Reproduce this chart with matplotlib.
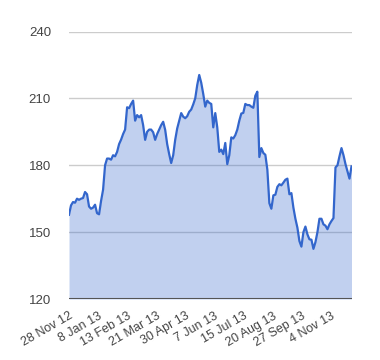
import numpy as np
import matplotlib
matplotlib.use("Agg")
import matplotlib.pyplot as plt

# values, one every ~2 trading days
price = [
    157.8, 162.0, 163.5, 163.2, 165.0, 164.5, 165.0, 165.3, 168.0, 167.0,
    161.5, 160.5, 161.0, 162.3, 158.5, 158.0, 164.0, 169.0, 180.0, 183.0,
    183.0, 182.5, 184.5, 184.0, 186.0, 189.5, 191.5, 194.0, 196.0, 206.0,
    205.6, 207.5, 209.0, 200.0, 202.5, 201.5, 202.5, 198.0, 191.4, 195.0,
    196.0, 196.0, 194.8, 191.4, 194.0, 196.0, 198.0, 199.5, 195.9, 189.5,
    185.0, 181.0, 184.5, 191.4, 196.5, 200.0, 203.4, 201.8, 201.1, 202.0,
    204.0, 205.0, 207.3, 210.0, 216.0, 220.5, 217.0, 212.0, 206.3, 209.0,
    208.0, 207.5, 197.0, 203.4, 197.0, 186.0, 187.0, 185.0, 190.0, 180.5,
    184.5, 192.5, 192.0, 193.5, 196.0, 200.0, 203.2, 203.5, 207.5, 207.0,
    207.0, 206.3, 205.8, 211.2, 213.0, 183.7, 187.7, 185.5, 184.7, 178.0,
    163.0, 160.5, 166.5, 166.8, 170.3, 171.5, 171.0, 172.2, 173.5, 174.0,
    167.0, 167.5, 161.0, 156.0, 152.0, 146.0, 143.5, 150.0, 152.5, 149.0,
    146.8, 146.6, 142.5, 145.5, 150.0, 156.0, 156.0, 153.5, 152.9, 151.3,
    153.5, 155.0, 156.3, 179.0, 180.0, 184.0, 187.7, 184.5, 180.5, 177.3,
    174.0, 179.5,
]
date_labels = ["28 Nov 12", "8 Jan 13", "13 Feb 13", "21 Mar 13", "30 Apr 13",
               "7 Jun 13", "15 Jul 13", "20 Aug 13", "27 Sep 13", "4 Nov 13"]
y_ticks = [120, 150, 180, 210, 240]

plt.rcParams['font.family'] = ['Liberation Sans', 'DejaVu Sans']

x = np.arange(len(price))
fig = plt.figure(figsize=(3.8, 3.6), dpi=100)
ax = fig.add_axes([0.1816, 0.1694, 0.7434, 0.7431])

ax.fill_between(x, 120, price, color='#3366cc', alpha=0.3, lw=0, zorder=2)
ax.plot(x, price, color='#3366cc', lw=1.6, zorder=3, solid_joinstyle='round')

ax.set_xlim(0, len(price) - 1)
ax.set_ylim(120, 240)
ax.set_yticks(y_ticks)
ax.grid(axis='y', color='#cccccc', lw=1, zorder=1)
ax.axhline(120, color='#555555', lw=1.5, zorder=4)

# one label every ~14.5 points
tick_pos = 3 + 14.5 * np.arange(len(date_labels))
ax.set_xticks(tick_pos)
ax.set_xticklabels(date_labels, rotation=30, ha='right', va='top')

ax.tick_params(axis='both', length=0, labelsize=9, colors='#444444')
ax.tick_params(axis='y', pad=13, labelsize=9.5)
ax.tick_params(axis='x', pad=8)
for s in ax.spines.values():
    s.set_visible(False)

fig.savefig("out.png", dpi=100)
